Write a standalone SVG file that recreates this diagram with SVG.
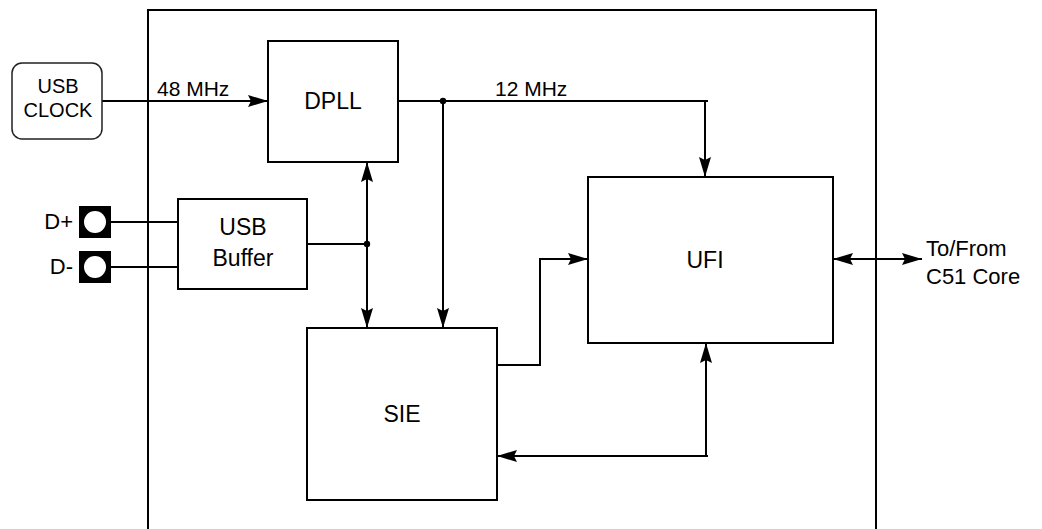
<svg xmlns="http://www.w3.org/2000/svg" width="1042" height="529" viewBox="0 0 1042 529">
<style>
.box{fill:#fff;stroke:#000;stroke-width:2}
.ln{fill:none;stroke:#000;stroke-width:2}
text{font-family:"Liberation Sans",Arial,sans-serif;fill:#000}
.nl{font-size:23px;text-anchor:middle}
.lb{font-size:21px}
</style>
<defs>
<marker id="ah" viewBox="0 0 20 12" refX="20" refY="6" markerWidth="20" markerHeight="12" markerUnits="userSpaceOnUse" orient="auto-start-reverse">
<path d="M0,0 L20,6 L0,12 L3,6 Z" fill="#000"/>
</marker>
</defs>
<rect width="1042" height="529" fill="#fff"/>
<g id="frame">
<path class="ln" d="M148,529 V10 H876 V529"/>
</g>
<g id="connectors">
<path class="ln" d="M102,101 H268" marker-end="url(#ah)"/>
<path class="ln" d="M398,101 H708"/>
<path class="ln" d="M705,101 V177" marker-end="url(#ah)"/>
<path class="ln" d="M443,101 V328" marker-end="url(#ah)"/>
<path class="ln" d="M367,162 V328" marker-start="url(#ah)" marker-end="url(#ah)"/>
<path class="ln" d="M307,244 H367"/>
<path class="ln" d="M111,222 H178"/>
<path class="ln" d="M111,267 H178"/>
<path class="ln" d="M497,365 H540 V259 H588" marker-end="url(#ah)"/>
<path class="ln" d="M706,343 V456" marker-start="url(#ah)"/>
<path class="ln" d="M708,456 H497" marker-end="url(#ah)"/>
<path class="ln" d="M833,259 H922" marker-start="url(#ah)" marker-end="url(#ah)"/>
<circle cx="443" cy="101" r="3.2" fill="#000"/>
<circle cx="367" cy="244" r="3.2" fill="#000"/>
<text class="lb" x="157" y="96">48 MHz</text>
<text class="lb" x="495" y="96">12 MHz</text>
<text class="lb" x="926" y="256" style="font-size:22px">To/From</text>
<text class="lb" x="926" y="284" style="font-size:22px">C51 Core</text>
</g>
<g id="usb-clock">
<rect x="12" y="63" width="90" height="76" rx="10" fill="#fff" stroke="#222" stroke-width="1.5"/>
<text x="58" y="93" style="font-size:20px;text-anchor:middle">USB</text>
<text x="58" y="117" style="font-size:20px;text-anchor:middle">CLOCK</text>
</g>
<g id="dplus">
<rect x="79" y="206" width="32" height="32" fill="#000"/>
<circle cx="95" cy="222" r="11" fill="#fff"/>
<text x="73" y="229" style="font-size:22px;text-anchor:end">D+</text>
</g>
<g id="dminus">
<rect x="79" y="251" width="32" height="32" fill="#000"/>
<circle cx="95" cy="267" r="11" fill="#fff"/>
<text x="73" y="274" style="font-size:22px;text-anchor:end">D-</text>
</g>
<g id="dpll">
<rect class="box" x="268" y="41" width="130" height="121"/>
<text class="nl" x="333" y="109">DPLL</text>
</g>
<g id="usb-buffer">
<rect class="box" x="178" y="199" width="129" height="90"/>
<text class="nl" x="243" y="235">USB</text>
<text class="nl" x="243" y="266">Buffer</text>
</g>
<g id="ufi">
<rect class="box" x="588" y="177" width="245" height="166"/>
<text class="nl" x="705" y="268">UFI</text>
</g>
<g id="sie">
<rect class="box" x="307" y="328" width="190" height="172"/>
<text class="nl" x="402" y="422">SIE</text>
</g>
</svg>
